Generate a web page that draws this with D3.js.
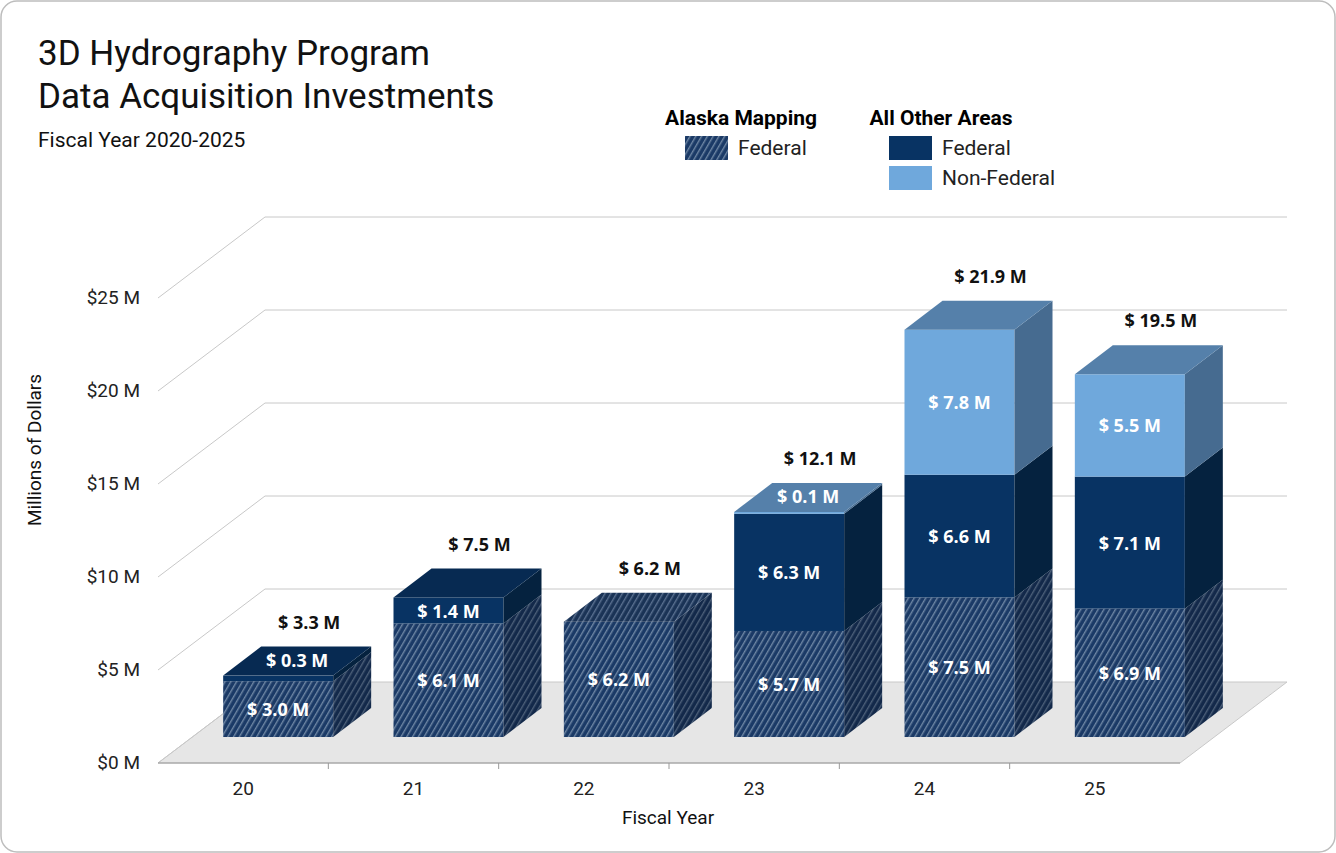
<!DOCTYPE html>
<html><head><meta charset="utf-8">
<script src="https://cdn.jsdelivr.net/npm/d3@7"></script>
<style>body{margin:0;background:#fff}svg{display:block}</style>
</head><body><svg width="1336" height="853"></svg>
<script>
const years = ['20', '21', '22', '23', '24', '25'];
const alaskaFederal = [3.0, 6.1, 6.2, 5.7, 7.5, 6.9];
const otherFederal = [0.3, 1.4, 0, 6.3, 6.6, 7.1];
const otherNonFederal = [0, 0, 0, 0.1, 7.8, 5.5];
const yTicks = [0, 5, 10, 15, 20, 25];

const svg = d3.select('svg');
const font = 'Roboto, sans-serif';
const labelFont = '"Open Sans", sans-serif';

// depth offsets
const wallDx = 107, wallDy = -81;
const barOffY = -26;
const barDepthX = 38, barDepthY = -29;

const x = d3.scaleBand().domain(years).range([158, 1180]);
const y = d3.scaleLinear().domain([0, 25]).range([763, 298]);

const defs = svg.append('defs');
const hatch = (id, bg, line) => {
  const p = defs.append('pattern').attr('id', id).attr('patternUnits', 'userSpaceOnUse')
    .attr('width', 5).attr('height', 5).attr('patternTransform', 'rotate(30)');
  p.append('rect').attr('width', 5).attr('height', 5).attr('fill', bg);
  p.append('rect').attr('width', 1.4).attr('height', 5).attr('fill', line);
};
hatch('hatchFront', '#1b3a66', '#6f87a4');
hatch('hatchSide', '#13294a', '#4c5f78');
hatch('hatchTop', '#1a3356', '#5a7090');

svg.append('rect').attr('x', 1).attr('y', 1).attr('width', 1334).attr('height', 851)
  .attr('rx', 16).attr('fill', '#fff').attr('stroke', '#bdbdbd').attr('stroke-width', 1.5);

// floor
svg.append('path')
  .attr('d', `M158,${y(0)}L1180,${y(0)}L${1180 + wallDx},${y(0) + wallDy}L${158 + wallDx},${y(0) + wallDy}Z`)
  .attr('fill', '#e6e6e6').attr('stroke', '#c8c8c8');

// gridlines
const g = svg.append('g');
yTicks.forEach(t => {
  if (t > 0) {
    g.append('line').attr('x1', 158 + wallDx).attr('x2', 1180 + wallDx)
      .attr('y1', y(t) + wallDy).attr('y2', y(t) + wallDy).attr('stroke', '#c8c8c8');
  }
  g.append('line').attr('x1', 158).attr('y1', y(t)).attr('x2', 158 + wallDx).attr('y2', y(t) + wallDy)
    .attr('stroke', '#c8c8c8');
  g.append('text').attr('x', 140).attr('y', y(t) + 6).attr('text-anchor', 'end')
    .attr('font-family', font).attr('font-size', 19).attr('fill', '#222').text(`$${t} M`);
});

// bottom axis
g.append('line').attr('x1', 158).attr('x2', 1180).attr('y1', y(0)).attr('y2', y(0)).attr('stroke', '#999');
years.forEach((yr, i) => {
  if (i > 0) g.append('line').attr('x1', x(yr)).attr('x2', x(yr)).attr('y1', y(0)).attr('y2', y(0) + 6).attr('stroke', '#999');
  g.append('text').attr('x', x(yr) + x.bandwidth() / 2).attr('y', 795).attr('text-anchor', 'middle')
    .attr('font-family', font).attr('font-size', 19).attr('fill', '#222').text(yr);
});

// bars
const barW = 110;
const pxPerM = y(0) - y(1);
const segStyles = [
  { front: 'url(#hatchFront)', side: 'url(#hatchSide)', top: 'url(#hatchTop)' },
  { front: '#083363', side: '#05223f', top: '#072a52' },
  { front: '#6fa8dc', side: '#466b90', top: '#5580aa' }
];
const bars = svg.append('g');
years.forEach((yr, i) => {
  const vals = [alaskaFederal[i], otherFederal[i], otherNonFederal[i]];
  const x0 = x(yr) + x.bandwidth() / 2 - 20;
  let base = y(0) + barOffY;
  let topSeg = 0;
  vals.forEach((v, k) => { if (v > 0) topSeg = k; });
  const labels = [];
  vals.forEach((v, k) => {
    if (v <= 0) return;
    const h = v * pxPerM;
    const yt = base - h;
    const st = segStyles[k];
    bars.append('rect').attr('x', x0).attr('y', yt).attr('width', barW).attr('height', h).attr('fill', st.front);
    bars.append('path')
      .attr('d', `M${x0 + barW},${base}L${x0 + barW},${yt}L${x0 + barW + barDepthX},${yt + barDepthY}L${x0 + barW + barDepthX},${base + barDepthY}Z`)
      .attr('fill', st.side);
    if (k === topSeg) {
      bars.append('path')
        .attr('d', `M${x0},${yt}L${x0 + barW},${yt}L${x0 + barW + barDepthX},${yt + barDepthY}L${x0 + barDepthX},${yt + barDepthY}Z`)
        .attr('fill', st.top);
    }
    if (h < 20) labels.push({ x: x0 + barW / 2 + barDepthX / 2, y: yt + barDepthY / 2 + 6, v });
    else labels.push({ x: x0 + barW / 2, y: yt + h / 2 + 7, v });
    base = yt;
  });
  labels.forEach(l => {
    bars.append('text').attr('x', l.x).attr('y', l.y).attr('text-anchor', 'middle')
      .attr('font-family', labelFont).attr('font-weight', 700).attr('font-size', 18).attr('fill', '#fff')
      .text(`$ ${l.v.toFixed(1)} M`);
  });
  const total = d3.sum(vals);
  bars.append('text').attr('x', x0 + barW / 2 + barDepthX / 2 + 12).attr('y', base + barDepthY - 18)
    .attr('text-anchor', 'middle').attr('font-family', labelFont).attr('font-weight', 700)
    .attr('font-size', 18).attr('fill', '#111').text(`$ ${total.toFixed(1)} M`);
});

// titles
const t = svg.append('g').attr('font-family', font).attr('fill', '#111');
t.append('text').attr('x', 38).attr('y', 65).attr('font-size', 35).text('3D Hydrography Program');
t.append('text').attr('x', 38).attr('y', 108).attr('font-size', 35).text('Data Acquisition Investments');
t.append('text').attr('x', 38).attr('y', 147).attr('font-size', 21).text('Fiscal Year 2020-2025');
t.append('text').attr('transform', 'translate(41,450) rotate(-90)').attr('text-anchor', 'middle')
  .attr('font-size', 19).text('Millions of Dollars');
t.append('text').attr('x', 668).attr('y', 824).attr('text-anchor', 'middle').attr('font-size', 19).text('Fiscal Year');

// legend
const lg = svg.append('g').attr('font-family', font).attr('font-size', 21);
lg.append('text').attr('x', 741).attr('y', 125).attr('text-anchor', 'middle').attr('font-weight', 700).text('Alaska Mapping');
lg.append('text').attr('x', 941).attr('y', 125).attr('text-anchor', 'middle').attr('font-weight', 700).text('All Other Areas');
const items = [
  { x: 685, y: 136, fill: 'url(#hatchFront)', label: 'Federal' },
  { x: 889, y: 136, fill: '#083363', label: 'Federal' },
  { x: 889, y: 166, fill: '#6fa8dc', label: 'Non-Federal' }
];
items.forEach(d => {
  lg.append('rect').attr('x', d.x).attr('y', d.y).attr('width', 43).attr('height', 24).attr('fill', d.fill);
  lg.append('text').attr('x', d.x + 53).attr('y', d.y + 19).attr('fill', '#222').text(d.label);
});
</script></body></html>
